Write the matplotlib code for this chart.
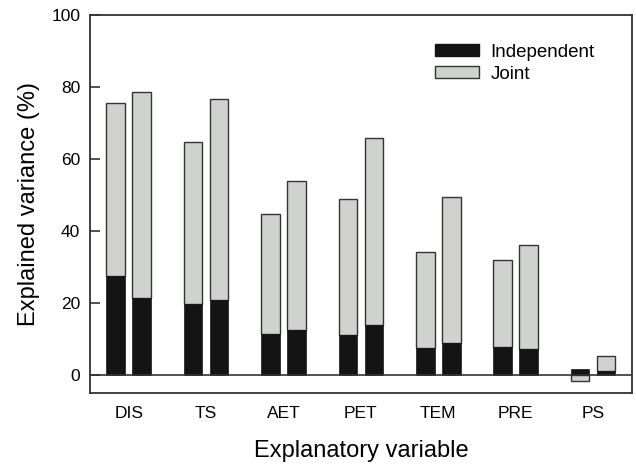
import matplotlib.pyplot as plt
import numpy as np

plt.rcParams['font.family'] = ['Liberation Sans', 'DejaVu Sans']

variables = ["DIS", "TS", "AET", "PET", "TEM", "PRE", "PS"]

# two bars per variable (left / right)
indep_left = [27.5, 19.6, 11.3, 11.0, 7.6, 7.9, 1.8]
joint_left = [48.0, 45.1, 33.3, 37.9, 26.6, 24.0, -1.65]
indep_right = [21.5, 20.9, 12.4, 13.8, 9.0, 7.1, 1.1]
joint_right = [57.0, 55.7, 41.4, 52.0, 40.4, 28.9, 4.2]

black = "#141414"
grey = "#d0d2d0"
edge = "#333333"

fig = plt.figure(figsize=(6.36, 4.65), dpi=100)
ax = fig.add_axes([0.1415, 0.1548, 0.852, 0.8129])

x = np.arange(len(variables))
w = 0.24
off = 0.168


def draw(xpos, indep, joint):
    indep = np.array(indep)
    joint = np.array(joint)
    bottom = np.where(joint >= 0, indep, 0)
    ax.bar(xpos, joint, w, bottom=bottom, color=grey, edgecolor=edge, linewidth=1.0, zorder=2)
    ax.bar(xpos, indep, w, color=black, edgecolor=black, linewidth=0.5, zorder=3)


draw(x - off, indep_left, joint_left)
draw(x + off, indep_right, joint_right)

ax.axhline(0, color=edge, lw=1.2, zorder=4)

ax.set_xlim(-0.5, 6.5)
ax.set_ylim(-5, 100)
ax.set_yticks([0, 20, 40, 60, 80, 100])
ax.set_xticks(x)
ax.set_xticklabels(variables)
ax.tick_params(axis='y', direction='in', length=7, width=1.2, pad=7, labelsize=12.5, color=edge)
ax.tick_params(axis='x', length=0, pad=9, labelsize=12.5)
for s in ax.spines.values():
    s.set_linewidth(1.3)
    s.set_color(edge)

ax.set_xlabel("Explanatory variable", fontsize=17, labelpad=14)
ax.set_ylabel("Explained variance (%)", fontsize=17, labelpad=8)

h1 = plt.Rectangle((0, 0), 1, 1, facecolor=black, edgecolor=black)
h2 = plt.Rectangle((0, 0), 1, 1, facecolor=grey, edgecolor=edge)
ax.legend([h1, h2], ["Independent", "Joint"], loc='upper left', bbox_to_anchor=(0.606, 0.968),
          frameon=False, fontsize=13.5, handlelength=2.35, handleheight=0.6,
          handletextpad=0.6, labelspacing=0.25)

fig.savefig("out.png", dpi=100)
